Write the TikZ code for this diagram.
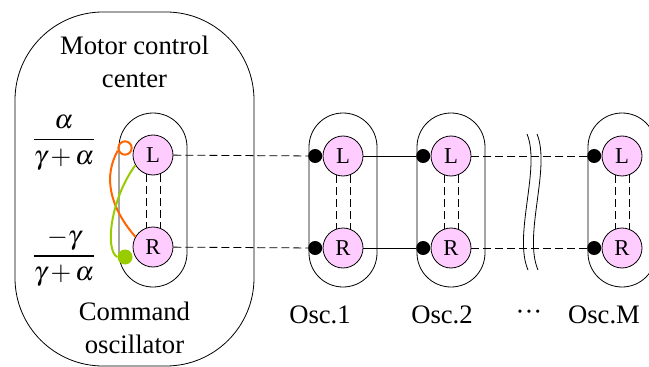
\documentclass[tikz,border=0pt]{standalone}
\usepackage{mathptmx}
\usepackage{fontspec}
\setmainfont{Liberation Serif}
\usetikzlibrary{positioning,calc}
\definecolor{oscpink}{RGB}{255,204,255}
\definecolor{linkorange}{RGB}{255,102,0}
\definecolor{linkgreen}{RGB}{153,204,0}

\begin{document}
\begin{tikzpicture}[x=0.75pt,y=-0.75pt,line width=0.6pt,node distance=69pt,
                    every node/.style={font=\fontsize{20}{25}\selectfont}]
  \tikzstyle{unit}=[circle,draw,fill=oscpink,minimum size=30pt,inner sep=0pt,
                    font=\fontsize{17}{20}\selectfont]
  \tikzstyle{pair}=[draw,rectangle,rounded corners=25.5pt,minimum width=51pt,
                    minimum height=130.5pt,inner sep=0pt]
  \tikzstyle{dot}=[circle,fill=black,minimum size=10.5pt,inner sep=0pt]
  \tikzstyle{link}=[dash pattern=on 6pt off 3pt]
  \useasboundingbox (0,0) rectangle (649,367);

  % motor control center
  \node[draw,rounded corners=66pt,minimum width=179.25pt,minimum height=265.5pt,
        inner sep=0pt] (mcc) at (134.5,189) {};
  \node[align=center] (mcctext) at (134.5,62) {Motor control\\center};
  \node[align=center] (cmdtext) at (134.5,328) {Command\\oscillator};
  \node (gainL) at (64,143) {$\displaystyle\frac{\alpha}{\gamma+\alpha}$};
  \node (gainR) at (64,258) {$\displaystyle\frac{-\gamma}{\gamma+\alpha}$};

  % command oscillator
  \node[pair] (cmd) at (153,200) {};
  \node[unit] (cL) at (153,155) {L};
  \node[unit] (cR) [below of = cL] {R};
  \node[circle,draw=linkorange,line width=1.5pt,minimum size=10pt,inner sep=0pt]
        (oring) at (125,148) {};
  \node[circle,fill=linkgreen,minimum size=11.25pt,inner sep=0pt] (gdot) at (125,257) {};
  \draw[linkorange,line width=1.5pt] (oring.200) .. controls (104,175) and (108,205) .. (cR.150);
  \draw[linkgreen,line width=1.5pt] (cL.210) .. controls (110,200) and (105,250) .. (gdot.west);

  % chain of oscillators
  \foreach \name/\x in {o1/343,o2/451,oM/622} {
    \node[pair] (\name) at (\x,200) {};
    \node[unit] (\name L) at (\x,156) {L};
    \node[unit] (\name R) [below of = \name L] {R};
    \node[dot] (\name dL) [left=0pt of \name L] {};
    \node[dot] (\name dR) [left=0pt of \name R] {};
  }

  \node (lab1) at (320,315) {Osc.1};
  \node (lab2) at (442,315) {Osc.2};
  \node (labdots) at (529,315) {\textperiodcentered\textperiodcentered\textperiodcentered};
  \node (labM) at (604,315) {Osc.M};

  % inner links
  \foreach \name in {c,o1,o2,oM} {
    \draw[link] (\name L.-110) -- (\name R.110);
    \draw[link] (\name L.-70) -- (\name R.70);
  }

  % chain links
  \path (cL) edge[link] (o1dL)
        (cR) edge[link] (o1dR)
        (o1L) edge (o2dL)
        (o1R) edge (o2dR)
        (o2L) edge[link] (oMdL)
        (o2R) edge[link] (oMdR);

  % break marks
  \draw (527,134) .. controls (541,168) and (513,235) .. (528,270);
  \draw (537,134) .. controls (551,168) and (523,235) .. (538,270);

\end{tikzpicture}
\end{document}
